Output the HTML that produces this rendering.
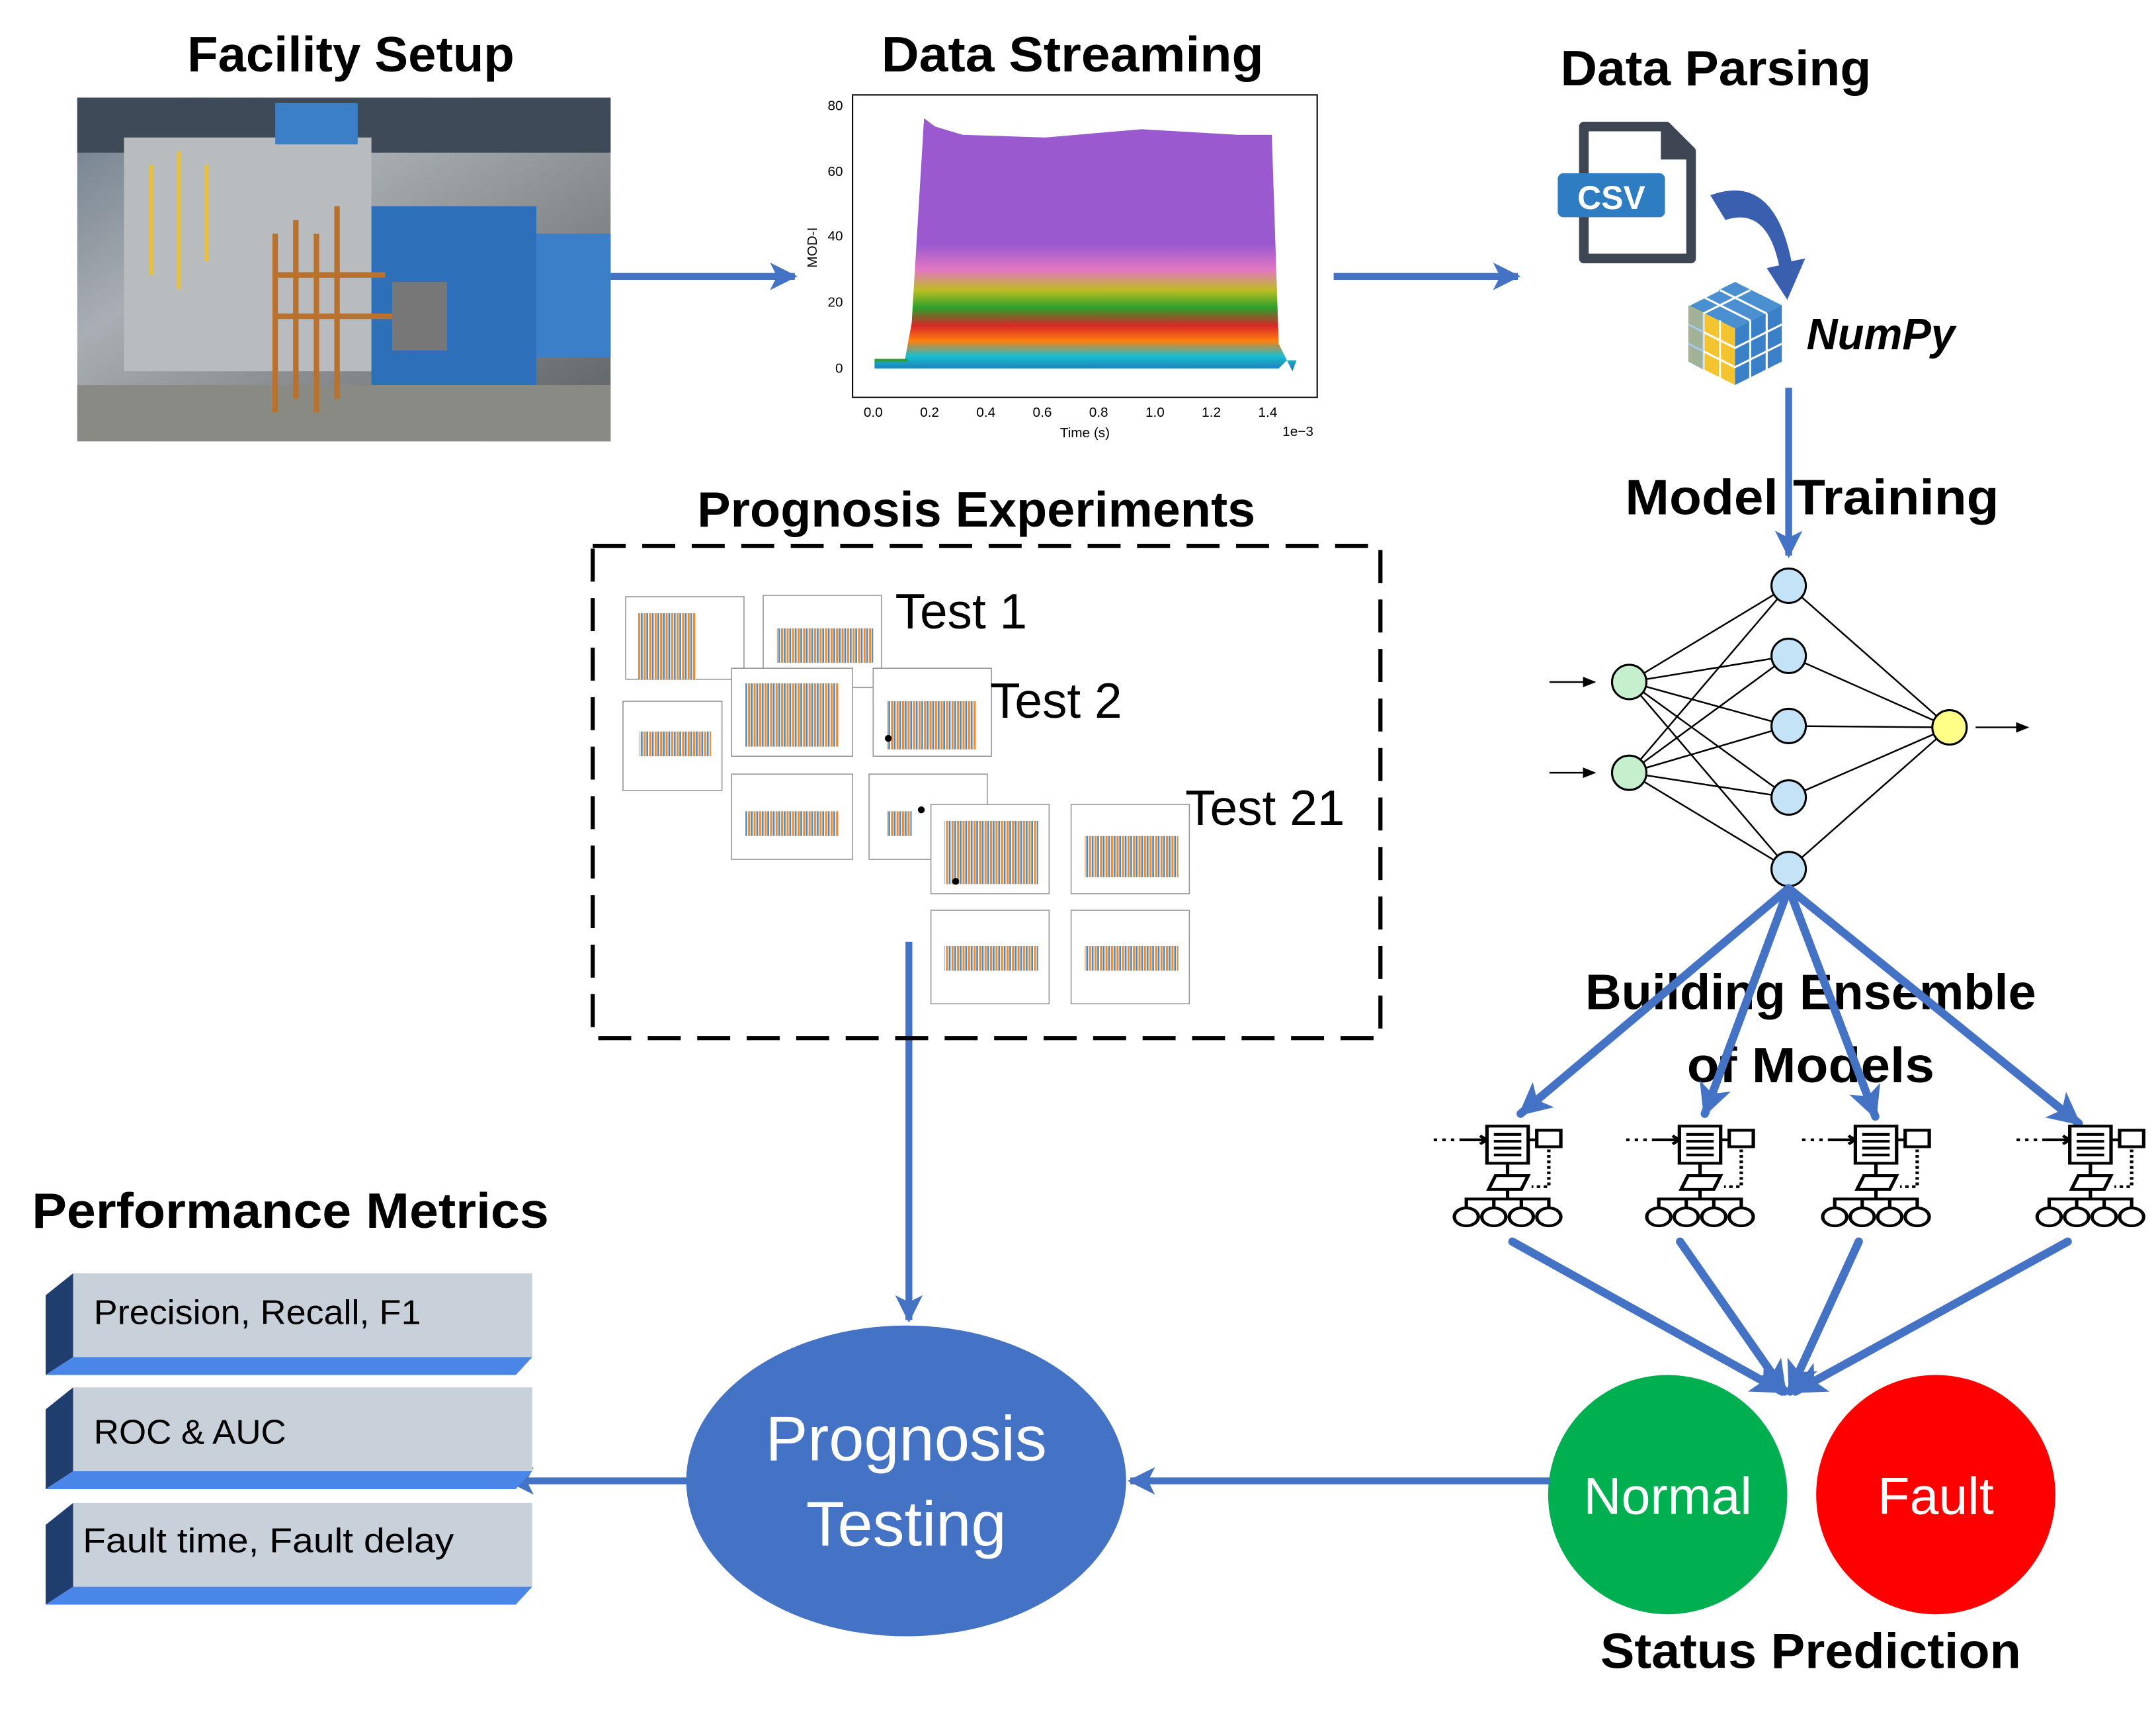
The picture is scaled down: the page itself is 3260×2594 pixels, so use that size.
<!DOCTYPE html>
<html><head><meta charset="utf-8"><style>
html,body{margin:0;padding:0;background:#fff;}
svg{display:block;}
text{font-family:"Liberation Sans",sans-serif;}
</style></head><body>
<svg width="3260" height="2594" viewBox="0 0 1568 1248" xmlns="http://www.w3.org/2000/svg">
<defs>
<marker id="ah" viewBox="0 0 10 10" refX="9" refY="5" markerWidth="4" markerHeight="4" orient="auto-start-reverse" markerUnits="strokeWidth">
<path d="M0,0 L10,5 L0,10 L2.5,5 z" fill="#4472C4"/></marker>
<marker id="ahk" viewBox="0 0 10 10" refX="9" refY="5" markerWidth="8" markerHeight="8" orient="auto" markerUnits="strokeWidth">
<path d="M0,1 L10,5 L0,9 z" fill="#000"/></marker>
<pattern id="zz" width="4" height="10" patternUnits="userSpaceOnUse">
<rect width="4" height="10" fill="#fff"/><rect x="0" width="1.5" height="10" fill="#f08a2c"/><rect x="2" width="1.3" height="10" fill="#4a8cc8"/></pattern>
<linearGradient id="strm" x1="0" y1="0" x2="0" y2="1">
<stop offset="0" stop-color="#9b59d0"/><stop offset="0.5" stop-color="#9b59d0"/>
<stop offset="0.6" stop-color="#e377c2"/><stop offset="0.68" stop-color="#bcbd22"/>
<stop offset="0.75" stop-color="#2ca02c"/><stop offset="0.82" stop-color="#d62728"/>
<stop offset="0.88" stop-color="#ff7f0e"/><stop offset="0.94" stop-color="#17becf"/><stop offset="1" stop-color="#1f77b4"/></linearGradient>
<linearGradient id="photo" x1="0" y1="0" x2="1" y2="1">
<stop offset="0" stop-color="#6b7a88"/><stop offset="0.35" stop-color="#a9aeb3"/><stop offset="0.6" stop-color="#8c8f92"/><stop offset="1" stop-color="#5c5f62"/></linearGradient>
<g id="tree" fill="none" stroke="#000" stroke-width="2">
<path d="M-45 -40 H-28" stroke-dasharray="2 3"/><path d="M-28 -40 H-14"/><path d="M-18 -43 L-14 -40 L-18 -37"/>
<rect x="-14" y="-50" width="24" height="27" fill="#fff"/>
<path d="M-10 -44 H6 M-10 -39 H6 M-10 -34 H6 M-10 -29 H6"/>
<path d="M10 -40 H15"/><rect x="15" y="-47" width="14" height="12" fill="#fff"/>
<path d="M22 -33 V-6 H12" stroke-dasharray="2 2"/>
<path d="M-2 -23 V-14"/>
<path d="M-9 -14 H10 L6 -4 H-13 Z"/>
<path d="M-2 -4 V3 M-26 10 V3 H22 V10 M-10 3 V10 M6 3 V10"/>
<ellipse cx="-26" cy="16" rx="7" ry="6.5"/><ellipse cx="-10" cy="16" rx="7" ry="6.5"/><ellipse cx="6" cy="16" rx="7" ry="6.5"/><ellipse cx="22" cy="16" rx="7" ry="6.5"/>
</g>
</defs>

<!-- Titles -->
<g font-weight="bold" font-size="36" text-anchor="middle" fill="#000">
<text x="255" y="52" textLength="238" lengthAdjust="spacingAndGlyphs">Facility Setup</text>
<text x="780" y="52" textLength="278" lengthAdjust="spacingAndGlyphs">Data Streaming</text>
<text x="1248" y="62" textLength="226" lengthAdjust="spacingAndGlyphs">Data Parsing</text>
<text x="1318" y="374" textLength="272" lengthAdjust="spacingAndGlyphs">Model Training</text>
<text x="710" y="383" textLength="406" lengthAdjust="spacingAndGlyphs">Prognosis Experiments</text>
<text x="1317" y="734" textLength="328" lengthAdjust="spacingAndGlyphs">Building Ensemble</text>
<text x="1317" y="787" textLength="180" lengthAdjust="spacingAndGlyphs">of Models</text>
<text x="211" y="893" textLength="376" lengthAdjust="spacingAndGlyphs">Performance Metrics</text>
<text x="1317" y="1213" textLength="306" lengthAdjust="spacingAndGlyphs">Status Prediction</text>
</g>

<!-- Photo -->
<rect x="56" y="71" width="388" height="250" fill="url(#photo)"/>
<rect x="56" y="71" width="388" height="40" fill="#3e4a58"/>
<rect x="90" y="100" width="180" height="170" fill="#b8bcbf"/>
<rect x="270" y="150" width="120" height="150" fill="#2d6fb8"/>
<rect x="390" y="170" width="54" height="90" fill="#3a7fc8"/>
<rect x="200" y="75" width="60" height="30" fill="#3b80c6"/>
<rect x="56" y="280" width="388" height="41" fill="#8a8a85"/>
<g stroke="#b8722e" stroke-width="4" fill="none"><path d="M200 170 V300 M215 160 V290 M230 170 V300 M245 150 V290 M200 200 H280 M200 230 H290"/></g>
<rect x="285" y="205" width="40" height="50" fill="#777"/>
<g stroke="#e6c23a" stroke-width="3"><path d="M110 120 V200 M130 110 V210 M150 120 V190"/></g>

<!-- arrows top -->
<g stroke="#4472C4" stroke-width="5" fill="none">
<line x1="444" y1="201" x2="578" y2="201" marker-end="url(#ah)"/>
<line x1="970" y1="201" x2="1104" y2="201" marker-end="url(#ah)"/>
<line x1="1301" y1="282" x2="1301" y2="404" marker-end="url(#ah)"/>
</g>

<!-- Streaming plot -->
<rect x="620" y="69" width="338" height="220" fill="#fff" stroke="#000" stroke-width="1"/>
<path d="M636 262 H658 L663 235 L672 86 L680 92 L700 98 L760 100 L830 94 L900 98 L925 98 L930 250 L940 270 L943 262 L936 262 L930 268 L660 268 L636 268 Z" fill="url(#strm)"/>
<line x1="636" y1="262" x2="660" y2="262" stroke="#2ca02c" stroke-width="2"/>
<g font-size="10" fill="#000" text-anchor="end">
<text x="613" y="80">80</text><text x="613" y="128">60</text><text x="613" y="175">40</text><text x="613" y="223">20</text><text x="613" y="271">0</text></g>
<g font-size="10" fill="#000" text-anchor="middle">
<text x="635" y="303">0.0</text><text x="676" y="303">0.2</text><text x="717" y="303">0.4</text><text x="758" y="303">0.6</text><text x="799" y="303">0.8</text><text x="840" y="303">1.0</text><text x="881" y="303">1.2</text><text x="922" y="303">1.4</text>
<text x="789" y="318">Time (s)</text><text x="944" y="317">1e−3</text>
<text x="594" y="180" transform="rotate(-90 594 180)">MOD-I</text></g>

<!-- CSV icon -->
<path d="M1152 92 H1212 L1230 110 V188 H1152 Z" fill="none" stroke="#3d4652" stroke-width="7" stroke-linejoin="round"/>
<path d="M1210 92 V114 H1230" fill="#3d4652" stroke="#3d4652" stroke-width="4"/>
<rect x="1133" y="126" width="78" height="32" rx="4" fill="#2e7dc3"/>
<text x="1172" y="152" font-size="24" font-weight="bold" fill="#fff" text-anchor="middle">CSV</text>
<path d="M1244 142 Q1290 125 1303 190 L1313 188 L1300 218 L1285 195 L1294 193 Q1285 150 1255 160 Z" fill="#3a5fae"/>
<!-- Numpy cube -->
<g>
<path d="M1262 205 L1296 222 L1262 239 L1228 222 Z" fill="#4a90d0"/>
<path d="M1228 222 L1262 239 L1262 280 L1228 263 Z" fill="#f4c430"/>
<path d="M1262 239 L1296 222 L1296 263 L1262 280 Z" fill="#3a80c8"/>
<g stroke="#fff" stroke-width="1.5" fill="none">
<path d="M1239 216 L1273 233 M1251 211 L1285 228 M1250 211 L1216 228 M1273 211 L1239 228"/>
<path d="M1228 236 L1262 253 L1296 236 M1228 250 L1262 267 L1296 250 M1239 228 V269 M1251 233 V275 M1273 233 V275 M1285 228 V269"/>
</g>
<path d="M1228 222 L1239 228 V269 L1228 263 Z" fill="#6aa6dc" opacity="0.6"/>
</g>
<text x="1368" y="254" font-size="32" font-weight="bold" font-style="italic" text-anchor="middle" textLength="108" lengthAdjust="spacingAndGlyphs">NumPy</text>

<!-- Neural net -->
<g stroke="#000" stroke-width="1.2">
<line x1="1185" y1="496" x2="1301" y2="426"/><line x1="1185" y1="496" x2="1301" y2="477"/><line x1="1185" y1="496" x2="1301" y2="528"/><line x1="1185" y1="496" x2="1301" y2="580"/><line x1="1185" y1="496" x2="1301" y2="632"/>
<line x1="1185" y1="562" x2="1301" y2="426"/><line x1="1185" y1="562" x2="1301" y2="477"/><line x1="1185" y1="562" x2="1301" y2="528"/><line x1="1185" y1="562" x2="1301" y2="580"/><line x1="1185" y1="562" x2="1301" y2="632"/>
<line x1="1301" y1="426" x2="1418" y2="529"/><line x1="1301" y1="477" x2="1418" y2="529"/><line x1="1301" y1="528" x2="1418" y2="529"/><line x1="1301" y1="580" x2="1418" y2="529"/><line x1="1301" y1="632" x2="1418" y2="529"/>
<line x1="1127" y1="496" x2="1160" y2="496" marker-end="url(#ahk)"/>
<line x1="1127" y1="562" x2="1160" y2="562" marker-end="url(#ahk)"/>
<line x1="1437" y1="529" x2="1475" y2="529" marker-end="url(#ahk)"/>
</g>
<g stroke="#000" stroke-width="1.5">
<circle cx="1185" cy="496" r="12.5" fill="#c6efce"/><circle cx="1185" cy="562" r="12.5" fill="#c6efce"/>
<circle cx="1301" cy="426" r="12.5" fill="#c5e3f6"/><circle cx="1301" cy="477" r="12.5" fill="#c5e3f6"/><circle cx="1301" cy="528" r="12.5" fill="#c5e3f6"/><circle cx="1301" cy="580" r="12.5" fill="#c5e3f6"/><circle cx="1301" cy="632" r="12.5" fill="#c5e3f6"/>
<circle cx="1418" cy="529" r="12.5" fill="#ffff88"/>
</g>

<!-- ensemble arrows -->
<g stroke="#4472C4" stroke-width="6" fill="none" stroke-linecap="round">
<line x1="1301" y1="646" x2="1106" y2="810" marker-end="url(#ah)"/>
<line x1="1301" y1="646" x2="1240" y2="810" marker-end="url(#ah)"/>
<line x1="1301" y1="646" x2="1364" y2="812" marker-end="url(#ah)"/>
<line x1="1301" y1="646" x2="1512" y2="817" marker-end="url(#ah)"/>
<line x1="1100" y1="903" x2="1296" y2="1012" marker-end="url(#ah)"/>
<line x1="1222" y1="903" x2="1298" y2="1012" marker-end="url(#ah)"/>
<line x1="1352" y1="903" x2="1302" y2="1012" marker-end="url(#ah)"/>
<line x1="1504" y1="903" x2="1306" y2="1012" marker-end="url(#ah)"/>
</g>
<!-- tree icons -->
<g transform="translate(1099,869) scale(1.25,1)"><use href="#tree"/></g>
<g transform="translate(1239,869) scale(1.25,1)"><use href="#tree"/></g>
<g transform="translate(1367,869) scale(1.25,1)"><use href="#tree"/></g>
<g transform="translate(1523,869) scale(1.25,1)"><use href="#tree"/></g>

<!-- Normal / Fault -->
<circle cx="1213" cy="1087" r="87" fill="#00b050"/>
<circle cx="1408" cy="1087" r="87" fill="#ff0000"/>
<text x="1213" y="1101" font-size="38" fill="#fff" text-anchor="middle">Normal</text>
<text x="1408" y="1101" font-size="38" fill="#fff" text-anchor="middle">Fault</text>

<!-- horizontal arrows bottom -->
<g stroke="#4472C4" stroke-width="5" fill="none">
<line x1="1127" y1="1077" x2="822" y2="1077" marker-end="url(#ah)"/>
<line x1="500" y1="1077" x2="370" y2="1077" marker-end="url(#ah)"/>
<line x1="661" y1="685" x2="661" y2="960" marker-end="url(#ah)"/>
</g>

<!-- Prognosis testing -->
<ellipse cx="659" cy="1077" rx="160" ry="113" fill="#4472C4"/>
<text x="659" y="1062" font-size="46" fill="#fff" text-anchor="middle">Prognosis</text>
<text x="659" y="1124" font-size="46" fill="#fff" text-anchor="middle">Testing</text>

<!-- Metrics boxes -->
<g>
<g>
<path d="M33 942 L53 926 V987 L33 1000 Z" fill="#1f3e6e"/>
<rect x="53" y="926" width="334" height="61" fill="#c8d0da"/>
<path d="M53 987 H387 L375 1000 H33 Z" fill="#4a86e8"/>
</g>
<g transform="translate(0,83)">
<path d="M33 942 L53 926 V987 L33 1000 Z" fill="#1f3e6e"/>
<rect x="53" y="926" width="334" height="61" fill="#c8d0da"/>
<path d="M53 987 H387 L375 1000 H33 Z" fill="#4a86e8"/>
</g>
<g transform="translate(0,167)">
<path d="M33 942 L53 926 V987 L33 1000 Z" fill="#1f3e6e"/>
<rect x="53" y="926" width="334" height="61" fill="#c8d0da"/>
<path d="M53 987 H387 L375 1000 H33 Z" fill="#4a86e8"/>
</g>
<g font-size="25" fill="#000">
<text x="68" y="963" textLength="238" lengthAdjust="spacingAndGlyphs">Precision, Recall, F1</text>
<text x="68" y="1050" textLength="140" lengthAdjust="spacingAndGlyphs">ROC &amp; AUC</text>
<text x="60" y="1129" textLength="270" lengthAdjust="spacingAndGlyphs">Fault time, Fault delay</text>
</g>
</g>

<!-- Experiments dashed box -->
<rect x="431" y="397" width="573" height="358" fill="none" stroke="#000" stroke-width="3" stroke-dasharray="24 12"/>
<g stroke="#999" stroke-width="0.8">
<rect x="455" y="434" width="86" height="60" fill="#fff"/>
<rect x="555" y="433" width="86" height="67" fill="#fff"/>
<rect x="453" y="510" width="72" height="65" fill="#fff"/>
<rect x="532" y="486" width="88" height="64" fill="#fff"/>
<rect x="635" y="486" width="86" height="64" fill="#fff"/>
<rect x="532" y="563" width="88" height="62" fill="#fff"/>
<rect x="632" y="563" width="86" height="62" fill="#fff"/>
<rect x="677" y="585" width="86" height="65" fill="#fff"/>
<rect x="779" y="585" width="86" height="65" fill="#fff"/>
<rect x="677" y="662" width="86" height="68" fill="#fff"/>
<rect x="779" y="662" width="86" height="68" fill="#fff"/>
</g>
<g fill="url(#zz)">
<rect x="464" y="446" width="42" height="48"/>
<rect x="565" y="457" width="70" height="25"/>
<rect x="465" y="532" width="52" height="18"/>
<rect x="542" y="497" width="68" height="46"/>
<rect x="645" y="510" width="65" height="35"/>
<rect x="542" y="590" width="68" height="18"/>
<rect x="645" y="590" width="18" height="18"/>
<rect x="687" y="597" width="68" height="46"/>
<rect x="789" y="608" width="68" height="30"/>
<rect x="687" y="688" width="68" height="18"/>
<rect x="789" y="688" width="68" height="18"/>
</g>
<circle cx="646" cy="537" r="2.5"/><circle cx="670" cy="589" r="2.5"/><circle cx="695" cy="641" r="2.5"/>
<g font-size="36" fill="#000">
<text x="651" y="457">Test 1</text>
<text x="720" y="522">Test 2</text>
<text x="862" y="600">Test 21</text>
</g>
</svg>
</body></html>
